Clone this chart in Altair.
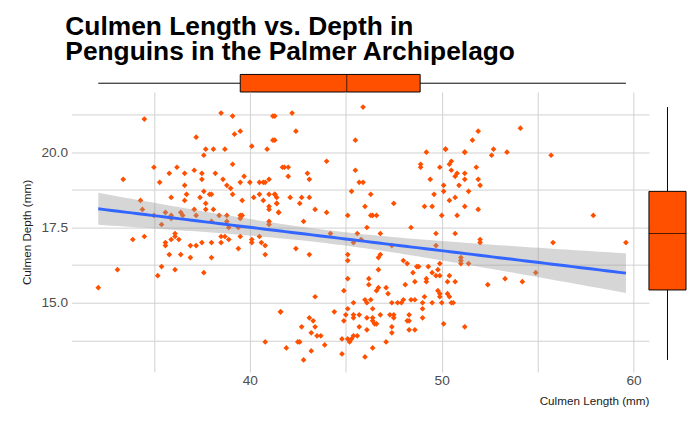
import numpy as np
import pandas as pd
import altair as alt

# culmen length / depth (mm)
culmen_length = [
    34.5, 38.5, 39.1, 41.2, 39.2, 39.5, 37.2, 41.2, 37.7, 38.1, 38.7, 40.1, 40.9, 37.6,
    35.0, 36.2, 37.1, 39.1, 33.4, 35.8, 36.6, 37.5, 37.5, 38.2, 38.6, 39.7, 35.3, 36.6,
    38.8, 39.0, 39.1, 39.5, 40.0, 40.5, 40.7, 40.8, 41.0, 35.9, 36.6, 36.7, 37.4, 37.6,
    37.9, 38.0, 39.6, 40.2, 40.5, 41.0, 41.3, 41.4, 40.7, 34.3, 34.4, 37.7, 37.1, 37.7,
    38.1, 41.0, 41.0, 41.5, 35.6, 36.4, 35.0, 35.9, 35.9, 36.5, 37.2, 38.4, 38.8, 39.5,
    39.6, 39.5, 35.4, 38.0, 38.8, 38.9, 39.4, 41.0, 41.0, 36.1, 35.9, 36.3, 36.1, 35.6,
    35.6, 33.9, 34.5, 36.9, 37.2, 37.5, 38.0, 38.5, 38.5, 38.7, 38.9, 39.5, 40.1, 40.1,
    40.5, 40.6, 40.8, 40.8, 39.4, 35.8, 36.4, 36.9, 38.0, 35.4, 35.2, 36.1, 37.6, 33.1,
    32.1, 41.6, 40.8,
    45.9, 42.2, 41.3, 42.4, 41.3, 45.5, 44.0, 41.7, 41.8, 42.0, 42.0, 43.0, 43.1, 45.5,
    45.7, 45.9, 45.3, 46.3, 41.3, 41.4, 41.4, 42.1, 42.7, 42.6, 43.1, 41.5, 43.4, 44.0,
    46.0, 46.3, 46.4, 46.6, 47.5, 45.1, 42.8, 46.1, 48.4, 44.2, 45.6, 46.8, 49.7, 50.7,
    45.4, 45.8, 47.4, 49.7, 42.4, 43.1, 45.1, 45.1, 46.7, 46.8, 48.0, 48.2, 48.7, 48.8,
    49.3, 49.5, 49.7, 49.9, 49.8, 49.9, 51.0, 46.7, 48.5, 50.4, 45.1, 46.2, 46.2, 48.1,
    48.6, 49.2, 49.2, 50.3, 50.7, 43.4, 44.9, 46.6, 46.7, 47.1, 47.2, 49.1, 49.9, 49.9,
    50.3, 50.4, 46.0, 46.3, 46.1, 45.4, 47.4, 47.7, 47.9, 48.0, 48.4, 48.6, 49.0, 49.0,
    49.5, 50.0, 50.5, 45.1, 46.4, 44.4, 41.6, 45.0, 44.9, 45.4, 45.4, 45.7, 46.1, 46.4,
    46.4, 46.8, 47.3, 47.5, 47.5, 48.3, 48.2, 48.3, 49.0, 43.1, 43.3, 42.7, 43.4, 43.2,
    43.5, 43.7, 45.7, 46.1, 46.5, 46.6, 47.4, 47.4, 48.3, 48.6, 50.1, 51.2, 42.5, 42.6,
    43.9, 44.8, 45.1, 45.3, 45.2, 45.4, 45.6, 47.1, 46.4, 41.9, 43.2, 44.8, 42.8, 46.0,
    49.2, 50.2, 51.2, 48.9, 48.9, 49.9, 50.4, 50.5, 50.5, 50.7, 50.8, 51.2, 51.2, 49.4,
    50.1, 50.1, 50.9, 49.6, 50.7, 50.4, 49.1, 49.5, 51.2, 50.0, 50.8,
    54.1, 51.9, 51.6, 50.2, 51.2, 52.7, 52.6, 53.4, 55.7, 51.8, 51.9, 52.0, 51.4, 51.9,
    57.9, 52.0, 52.0, 55.8, 59.6, 51.0, 51.0, 51.4, 54.9, 53.3, 54.2, 52.4, 49.8, 50.6,
]
culmen_depth = [
    21.1, 21.3, 21.2, 21.2, 20.6, 20.7, 20.5, 20.4, 20.1, 20.1, 20.1, 20.2, 20.1, 19.9,
    19.5, 19.5, 19.4, 19.6, 19.1, 19.3, 19.3, 19.3, 19.1, 19.3, 19.1, 19.2, 19.0, 18.9,
    18.9, 18.8, 18.6, 19.0, 19.0, 19.0, 19.0, 19.0, 19.1, 18.5, 18.4, 18.6, 18.5, 18.7,
    18.6, 18.6, 18.4, 18.5, 18.6, 18.6, 18.6, 18.3, 18.4, 18.4, 18.1, 18.3, 18.1, 18.1,
    18.1, 18.2, 18.1, 18.0, 18.0, 18.0, 17.9, 17.9, 17.8, 17.9, 17.9, 17.9, 17.9, 17.9,
    17.9, 17.8, 17.6, 17.7, 17.7, 17.5, 17.5, 17.7, 17.6, 17.3, 17.1, 17.1, 17.2, 17.0,
    16.9, 17.1, 17.2, 16.9, 16.9, 17.0, 17.0, 17.2, 17.0, 17.2, 17.1, 17.2, 17.1, 17.0,
    17.2, 17.0, 16.9, 16.6, 16.8, 16.6, 16.6, 16.5, 16.5, 16.2, 15.9, 16.1, 16.0, 16.1,
    15.5, 14.7, 13.7,
    21.5, 21.3, 21.2, 20.7, 20.4, 20.4, 19.7, 19.5, 19.5, 19.5, 19.2, 19.3, 19.1, 19.4,
    19.0, 19.0, 18.7, 18.6, 18.6, 18.5, 18.3, 18.5, 18.5, 18.3, 18.5, 18.0, 18.1, 18.0,
    18.2, 17.9, 17.9, 17.9, 18.3, 17.9, 17.7, 17.5, 17.5, 17.3, 17.3, 17.3, 17.3, 17.3,
    17.0, 17.1, 16.9, 16.9, 16.8, 16.6, 16.6, 16.4, 16.5, 16.6, 16.4, 16.3, 16.2, 16.2,
    16.2, 16.0, 15.9, 15.9, 16.1, 16.3, 16.4, 16.1, 16.0, 15.9, 15.8, 15.8, 15.6, 15.6,
    15.7, 15.7, 15.8, 15.7, 15.7, 15.2, 15.4, 15.4, 15.5, 15.5, 15.3, 15.2, 15.3, 15.2,
    15.3, 15.2, 15.1, 15.1, 15.0, 15.0, 15.0, 15.0, 15.0, 15.1, 15.1, 15.1, 15.0, 14.8,
    15.0, 15.0, 15.0, 14.8, 14.8, 14.7, 14.7, 14.6, 14.4, 14.6, 14.5, 14.6, 14.5, 14.5,
    14.4, 14.6, 14.6, 14.6, 14.5, 14.6, 14.4, 14.4, 14.5, 14.5, 14.4, 14.2, 14.2, 14.0,
    13.9, 13.9, 14.2, 14.1, 14.3, 14.3, 14.2, 14.0, 14.1, 14.1, 14.3, 14.2, 13.7, 13.7,
    13.6, 13.8, 13.8, 13.8, 13.7, 13.9, 13.9, 13.7, 13.5, 13.5, 13.4, 13.3, 13.1, 13.2,
    20.0, 20.1, 20.0, 19.6, 19.5, 19.5, 19.6, 19.7, 19.4, 19.2, 19.3, 19.3, 19.1, 19.1,
    18.9, 18.7, 18.9, 18.6, 18.5, 18.4, 18.2, 18.2, 18.2, 17.9, 17.9,
    20.8, 20.7, 20.4, 20.1, 20.0, 20.1, 19.9, 20.0, 19.9, 19.5, 19.1, 18.9, 18.7, 18.1,
    17.9, 17.0, 17.1, 17.0, 17.0, 16.5, 16.3, 16.3, 16.0, 15.8, 15.7, 15.6, 15.4, 15.0,
]

orange = "#FF5000"
df = pd.DataFrame({"length": culmen_length, "depth": culmen_depth})

# lm fit with 95% confidence band, like geom_smooth(method = "lm")
x = df["length"].to_numpy()
y = df["depth"].to_numpy()
slope, intercept = np.polyfit(x, y, 1)
n = len(x)
resid = y - (intercept + slope * x)
s = np.sqrt((resid ** 2).sum() / (n - 2))
xs = np.linspace(x.min(), x.max(), 80)
se = s * np.sqrt(1 / n + (xs - x.mean()) ** 2 / ((x - x.mean()) ** 2).sum())
fit = intercept + slope * xs
band = pd.DataFrame({"length": xs, "fit": fit, "lo": fit - 1.97 * se, "hi": fit + 1.97 * se})

W, H = 592, 287
xscale = alt.Scale(domain=[30.7, 60.8], nice=False, zero=False)
yscale = alt.Scale(domain=[12.7, 22.0], nice=False, zero=False)

xaxis = alt.Axis(values=[35, 40, 45, 50, 55, 60], labelExpr="datum.value % 10 == 0 ? datum.value : ''",
                 title="Culmen Length (mm)", titleAnchor="end", titleFontWeight="normal",
                 titleFontSize=12, titleColor="#1a1a1a", labelFontSize=14, labelColor="#4d4d4d",
                 domain=False, ticks=False, gridColor="#d0d0d0", titlePadding=8)
yaxis = alt.Axis(values=[13.75, 15, 16.25, 17.5, 18.75, 20, 21.25],
                 labelExpr="datum.value % 2.5 == 0 ? format(datum.value, '.1f') : ''",
                 title="Culmen Depth (mm)", titleFontWeight="normal", titleFontSize=12,
                 titleColor="#1a1a1a", labelFontSize=14, labelColor="#4d4d4d",
                 domain=False, ticks=False, gridColor="#d0d0d0", labelPadding=4, titlePadding=8)

points = alt.Chart(df).mark_point(shape="diamond", filled=True, size=34, opacity=1, color=orange).encode(
    x=alt.X("length:Q", scale=xscale, axis=xaxis),
    y=alt.Y("depth:Q", scale=yscale, axis=yaxis),
)
ci = alt.Chart(band).mark_area(color="#999999", opacity=0.4).encode(
    x=alt.X("length:Q", scale=xscale), y=alt.Y("lo:Q", scale=yscale), y2="hi:Q"
)
line = alt.Chart(band).mark_line(color="#3366FF", strokeWidth=3).encode(
    x=alt.X("length:Q", scale=xscale), y=alt.Y("fit:Q", scale=yscale)
)
main = alt.layer(points, ci, line).properties(width=W, height=H)

top = alt.Chart(df).mark_boxplot(
    extent="min-max", size=18, color=orange,
    box={"stroke": "black", "strokeWidth": 1}, median={"color": "black", "strokeWidth": 3},
    rule={"color": "black"}, ticks=False,
).encode(x=alt.X("length:Q", scale=xscale, axis=None)).properties(width=W, height=18)

right = alt.Chart(df).mark_boxplot(
    extent="min-max", size=38, color=orange,
    box={"stroke": "black", "strokeWidth": 1}, median={"color": "black", "strokeWidth": 3},
    rule={"color": "black"}, ticks=False,
).encode(y=alt.Y("depth:Q", scale=yscale, axis=None)).properties(width=38, height=H)

chart = alt.vconcat(
    top,
    alt.hconcat(main, right, spacing=0, bounds="flush"),
    spacing=0, bounds="flush",
).properties(
    padding={"left": 12, "top": 0, "right": 0, "bottom": 5},
    title=alt.Title(["Culmen Length vs. Depth in", " Penguins in the Palmer Archipelago"],
                    anchor="start", fontSize=27, fontWeight="bold", font="Liberation Sans",
                    color="black", offset=8, dx=46, lineHeight=26)
).configure(font="Liberation Sans").configure_view(stroke=None)

chart.save("out.html", embed_options={"renderer": "svg", "actions": False})
